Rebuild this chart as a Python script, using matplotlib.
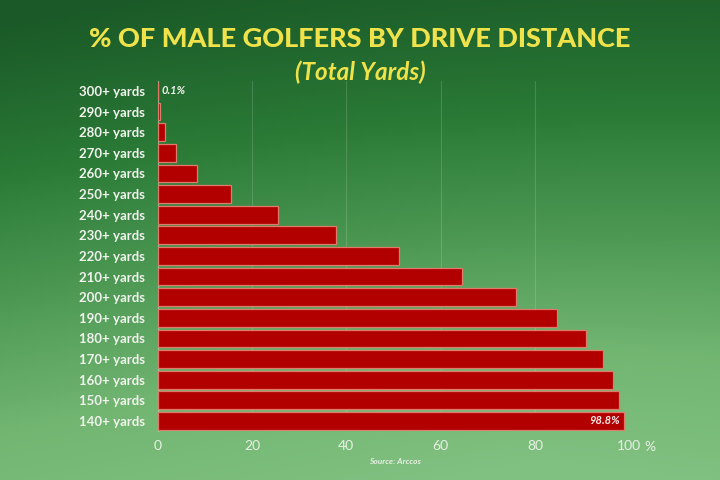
import numpy as np
import matplotlib
matplotlib.use("Agg")
import matplotlib.pyplot as plt
from matplotlib.colors import LinearSegmentedColormap

categories = ["300+ yards", "290+ yards", "280+ yards", "270+ yards", "260+ yards",
              "250+ yards", "240+ yards", "230+ yards", "220+ yards", "210+ yards",
              "200+ yards", "190+ yards", "180+ yards", "170+ yards", "160+ yards",
              "150+ yards", "140+ yards"]
values = [0.1, 0.5, 1.5, 3.9, 8.3, 15.5, 25.6, 37.8, 51.2, 64.6, 75.9, 84.6,
          90.9, 94.4, 96.6, 97.9, 98.8]
xticks = [0, 20, 40, 60, 80, 100]
title = "% OF MALE GOLFERS BY DRIVE DISTANCE"
subtitle = "(Total Yards)"
source = "Source: Arccos"

plt.rcParams['font.family'] = ['Lato', 'DejaVu Sans']

fig = plt.figure(figsize=(7.2, 4.8), dpi=100)

# background gradient
bg = fig.add_axes([0, 0, 1, 1], zorder=-10)
h, w = 240, 360
yy, xx = np.mgrid[0:h, 0:w]
t = yy / (h - 1)
s = xx / (w - 1)
r = np.sqrt(((s - 0.75) / 0.9) ** 2 + ((t - 1.0) / 0.9) ** 2)
v = np.clip(0.15 + 0.75 * t ** 1.2 - 0.2 * (r - 0.5) + 0.05 * s, 0, 1)
cmap = LinearSegmentedColormap.from_list("g", ["#1b5a28", "#2a7a36", "#4e9a55", "#72b672", "#80c080"])
bg.imshow(v, cmap=cmap, aspect='auto', extent=[0, 1, 0, 1], origin='upper', vmin=0, vmax=1)
bg.axis('off')

ax = fig.add_axes([0.219, 0.1015, 0.655, 0.7305])
ax.set_facecolor('none')
y = np.arange(len(categories))
ax.barh(y, values, height=0.86, color='#b20000', edgecolor='#e07a6a', linewidth=0.9, zorder=3)
ax.set_ylim(len(categories) - 0.5, -0.5)
ax.set_xlim(0, 100)
ax.set_yticks(y)
ax.set_yticklabels(categories, fontsize=9.5, fontweight='bold', color='#f2f2ee')
ax.set_xticks(xticks)
ax.set_xticklabels([str(v_) for v_ in xticks], fontsize=10, color='#e8f0e4')
ax.tick_params(axis='both', length=0, pad=6)
ax.tick_params(axis='y', pad=9)
for sp in ['top', 'right', 'bottom']:
    ax.spines[sp].set_visible(False)
ax.spines['left'].set_color('#c8dcc4')
ax.spines['left'].set_linewidth(0.8)
ax.spines['left'].set_alpha(0.6)
ax.grid(axis='x', color='#ffffff', alpha=0.15, linewidth=0.8, zorder=0)

ax.text(values[0] + 0.8, 0, f"{values[0]}%", va='center', ha='left', fontsize=8,
        fontweight='bold', fontstyle='italic', color='#f2f2ee')
ax.text(values[-1] - 0.8, len(categories) - 1, f"{values[-1]}%", va='center', ha='right',
        fontsize=8, fontweight='bold', fontstyle='italic', color='#f8e8e8', zorder=4)
ax.text(1.032, -0.028, "%", transform=ax.transAxes, ha='left', va='top', fontsize=10,
        color='#e8f0e4')

fig.text(0.5, 0.918, title, ha='center', va='center', fontsize=19.5, fontweight='black',
         color='#f0e24a')
fig.text(0.5, 0.85, subtitle, ha='center', va='center', fontsize=17.5, fontweight='bold',
         fontstyle='italic', color='#f0e24a')
fig.text(0.548, 0.038, source, ha='center', va='center', fontsize=6, fontweight='bold',
         fontstyle='italic', color='#e8f0e4')

fig.savefig("out.png", dpi=100)
